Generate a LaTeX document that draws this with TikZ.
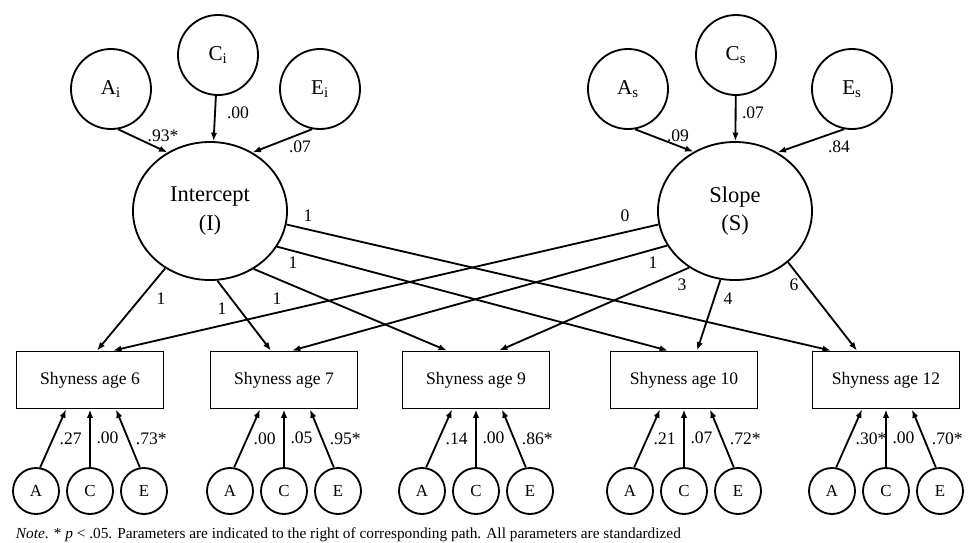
\documentclass[tikz,border=0pt]{standalone}
\usepackage{fontspec}
\setmainfont{Liberation Serif}
\usetikzlibrary{shapes.geometric,arrows.meta}
\begin{document}
\begin{tikzpicture}[x=0.025cm, y=-0.025cm, line width=1.3pt, >={Latex[length=6pt,width=4.5pt]},
  latent/.style={draw, circle, minimum size=2cm, inner sep=0pt, font=\fontsize{15}{18}\selectfont},
  factor/.style={draw, ellipse, minimum width=3.85cm, minimum height=3.45cm, inner sep=0pt, align=center, font=\fontsize{16}{20}\selectfont},
  obs/.style={draw, rectangle, minimum width=3.675cm, minimum height=1.425cm, font=\fontsize{12.5}{15}\selectfont},
  ace/.style={draw, circle, minimum size=1.15cm, inner sep=0pt, font=\fontsize{12}{14}\selectfont},
  lbl/.style={inner sep=1pt, font=\fontsize{12.5}{15}\selectfont}]
\useasboundingbox (0,0) rectangle (968,542);
% Define growth factors
\node[factor] (I) at (210,211) {Intercept\\(I)};
\node[factor] (S) at (735,211) {Slope\\(S)};
% Define ACE of the growth factors
\node[latent] (Ai) at (111,89) {A\textsubscript{i}};
\node[latent] (Ci) at (218,55) {C\textsubscript{i}};
\node[latent] (Ei) at (320,89) {E\textsubscript{i}};
\node[latent] (As) at (628,89) {A\textsubscript{s}};
\node[latent] (Cs) at (736,55) {C\textsubscript{s}};
\node[latent] (Es) at (852,89) {E\textsubscript{s}};
\draw[->] (Ai.280) -- (I.126) node[lbl, at={(163,136)}] {.93*};
\draw[->] (Ci) -- (I) node[lbl, at={(238,113)}] {.00};
\draw[->] (Ei.259) -- (I.54) node[lbl, at={(300,147)}] {.07};
\draw[->] (As.280) -- (S.125) node[lbl, at={(678,136)}] {.09};
\draw[->] (Cs) -- (S) node[lbl, at={(753,113)}] {.07};
\draw[->] (Es.259) -- (S.54) node[lbl, at={(839,147)}] {.84};
% Define measurements with their own ACE
\foreach \n/\x/\a/\c/\e in {6/90/.27/.00/.73*, 7/284/.00/.05/.95*, 9/476/.14/.00/.86*, 10/684/.21/.07/.72*, 12/886/.30*/.00/.70*} {
  \node[obs] (b\n) at (\x,380) {Shyness age \n};
  \node[ace] (A\n) at (\x-54,491) {A};
  \node[ace] (C\n) at (\x,491) {C};
  \node[ace] (E\n) at (\x+54,491) {E};
  \draw[->] (A\n.80) -- ([xshift=-0.6cm]b\n.south) node[lbl, midway, right=3pt] {\a};
  \draw[->] (C\n) -- (b\n) node[lbl, midway, right=3pt] {\c};
  \draw[->] (E\n.100) -- ([xshift=0.65cm]b\n.south) node[lbl, midway, right=4pt] {\e};
}
% Factor loadings
\draw[->] (I.232) -- ([xshift=0.175cm]b6.north) node[lbl, at={(161,299)}] {1};
\draw[->] (I.276) -- ([xshift=-0.325cm]b7.north) node[lbl, at={(222,309)}] {1};
\draw[->] (I.307) -- ([xshift=-0.725cm]b9.north) node[lbl, at={(277,299)}] {1};
\draw[->] (I.332) -- ([xshift=-0.4cm]b10.north) node[lbl, at={(293,263)}] {1};
\draw[->] (I.350) -- ([xshift=-1.375cm]b12.north) node[lbl, at={(308,216)}] {1};
\draw[->] (S.190) -- ([xshift=0.575cm]b6.north) node[lbl, at={(625,216)}] {0};
\draw[->] (S.207) -- ([xshift=0.2cm]b7.north) node[lbl, at={(653,263)}] {1};
\draw[->] (S.231) -- ([xshift=0.575cm]b9.north) node[lbl, at={(682,285)}] {3};
\draw[->] (S.258) -- ([xshift=0.325cm]b10.north) node[lbl, at={(728,299)}] {4};
\draw[->] (S.316) -- ([xshift=-0.725cm]b12.north) node[lbl, at={(794,285)}] {6};
\node[anchor=west, inner sep=0pt, font=\fontsize{10.9}{13}\selectfont] (note) at (15,535)
  {\textit{Note}. * \textit{p} < .05. Parameters are indicated to the right of corresponding path. All parameters are standardized};
\end{tikzpicture}
\end{document}
